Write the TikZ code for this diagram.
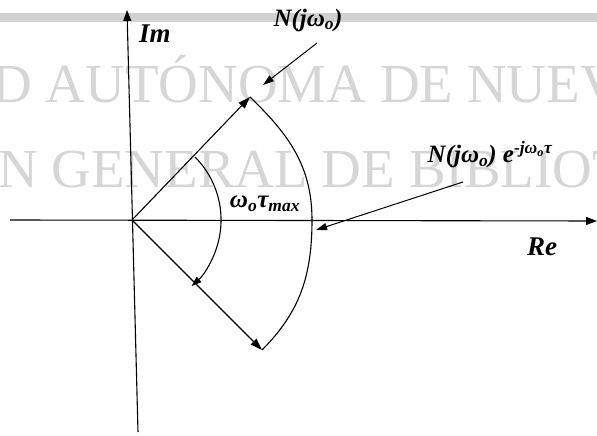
\documentclass[tikz,border=0pt]{standalone}
\usepackage{fontspec}
\setmainfont{Liberation Serif}
\usetikzlibrary{calc, positioning, arrows.meta}

\newcommand{\lo}[1]{\textsubscript{#1}}

\begin{document}
\begin{tikzpicture}[
  x=1pt, y=1pt,
  axis/.style={draw=black, line width=1.1pt, -{Triangle[length=11pt, width=8pt]}},
  vec/.style={draw=black, line width=1.1pt, -{Triangle[length=12pt, width=8pt]}},
  curve/.style={draw=black, line width=1.1pt},
  ptr/.style={draw=black, line width=1pt, -{Triangle[length=11pt, width=7pt]}},
  lab/.style={font=\fontsize{25}{27}\selectfont\bfseries\itshape, inner sep=1pt},
  axlab/.style={font=\fontsize{27}{29}\selectfont\bfseries\itshape, inner sep=1pt},
  wm/.style={text=black!16, font=\fontsize{55}{58}\selectfont, inner sep=0pt, anchor=base west}
]

\useasboundingbox (-132,-216) rectangle (465,220);
\clip (-132,-216) rectangle (465,220);

% scan background
\fill[black!18] (-132,198) rectangle (465,207);
\node[wm] (wm1) at (-140,117) {D AUTÓNOMA DE NUEV};
\node[wm] (wm2) at (-134,32) {N GENERAL DE BIBLIOTE};

\coordinate (O) at (0,0);
\coordinate (Ybot) at (6,-212);
\coordinate (Ytop) at (-5,210);
\coordinate (Xleft) at (-122,0);
\coordinate (Xright) at (465,-1);

\coordinate (A) at (118,123);
\coordinate (B) at (130,-130);
\coordinate (C) at (180,0);
\coordinate (S) at (63,63);

\draw[axis] (Ybot) -- (Ytop);
\draw[axis] (Xleft) -- (Xright);

\draw[vec] (O) -- (A);
\draw[vec] (O) -- (B);
\draw[curve] (A) to[out=-44, in=90] (C) to[out=-90, in=45] (B);
\draw[curve, -{Triangle[length=10pt, width=7pt]}] (S) arc[start angle=45, end angle=-48, radius=89];

\node[axlab] (im) at (23,186) {Im};
\node[axlab] (re) at (410,-27) {Re};
\node[lab] (wt) at (133,16) {ω\lo{o}τ\lo{max}};
\node[lab] (n1) at (176,200) {N(jω\lo{o})};
\node[lab] (n2) at (358,65) {N(jω\lo{o}) e\textsuperscript{-jω\lo{o}τ}};

\coordinate (P1) at (185,177);
\coordinate (T1) at (131,135);
\coordinate (P2) at (331,38);
\coordinate (T2) at (184,-10);
\draw[ptr] (P1) -- (T1);
\draw[ptr] (P2) -- (T2);

\end{tikzpicture}
\end{document}
